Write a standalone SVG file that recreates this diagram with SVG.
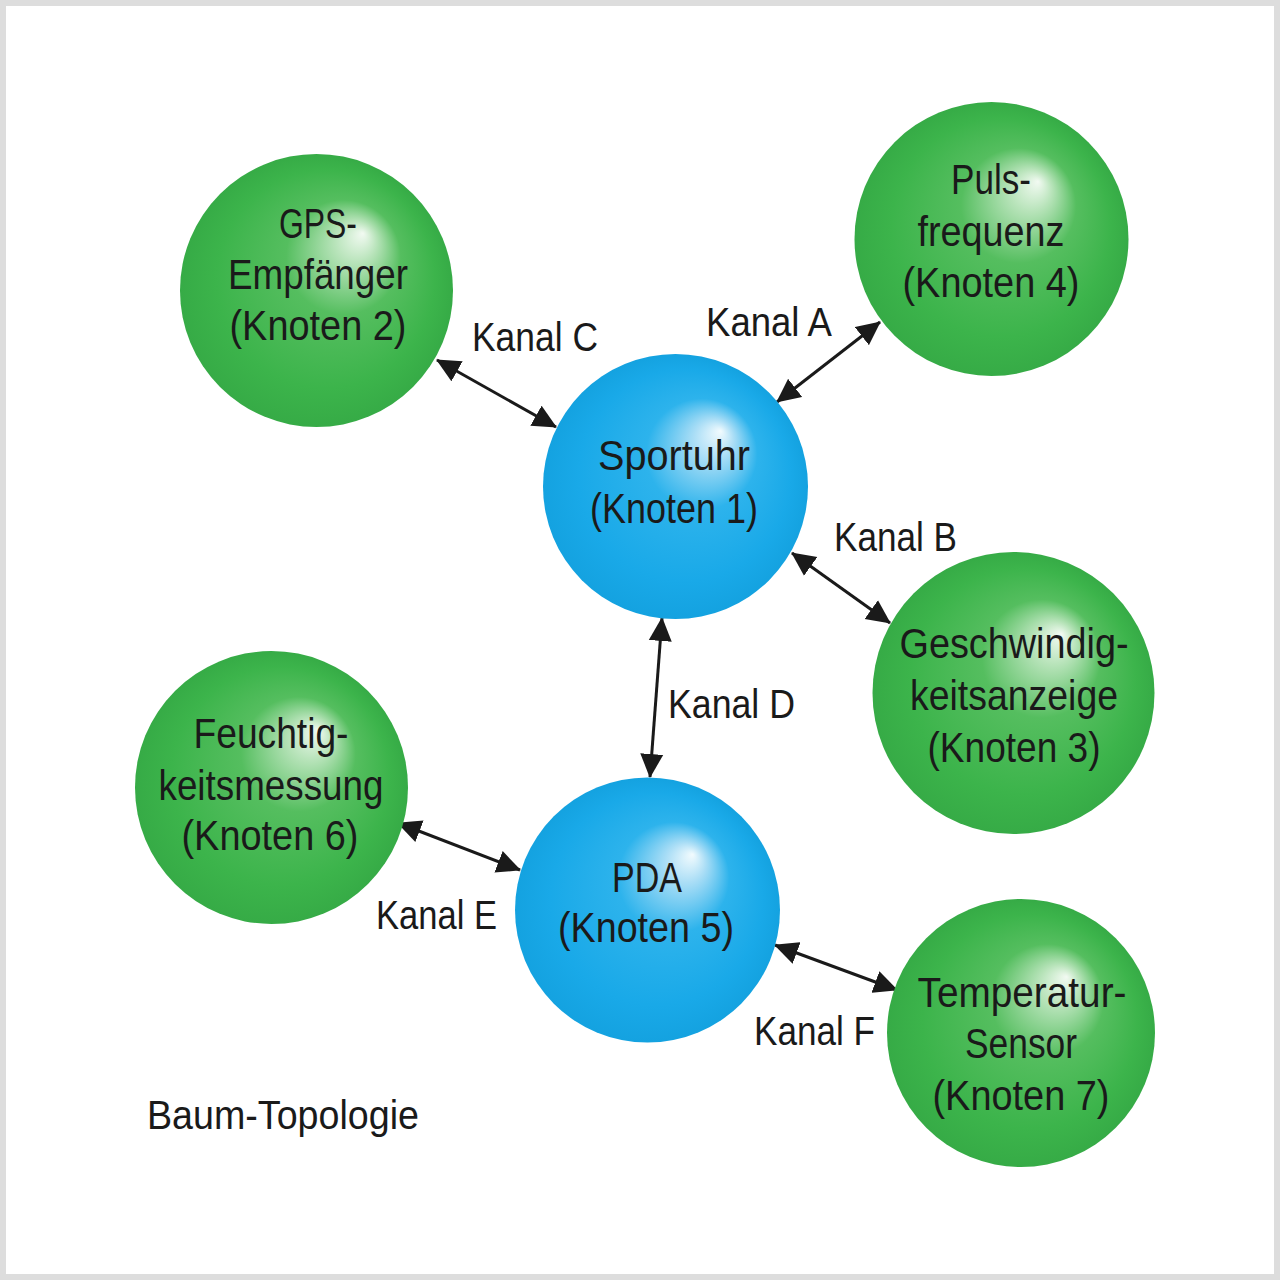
<svg xmlns="http://www.w3.org/2000/svg" width="1280" height="1280" viewBox="0 0 1280 1280">
<defs>
<radialGradient id="gGreen" cx="0.5" cy="0.5" r="0.5" fx="0.67" fy="0.29">
<stop offset="0" stop-color="#f2faf2"/>
<stop offset="0.15" stop-color="#b9e4bb"/>
<stop offset="0.42" stop-color="#55be5f"/>
<stop offset="0.8" stop-color="#3cb44b"/>
<stop offset="1" stop-color="#36ab46"/>
</radialGradient>
<radialGradient id="gBlue" cx="0.5" cy="0.5" r="0.5" fx="0.67" fy="0.29">
<stop offset="0" stop-color="#f2fbfe"/>
<stop offset="0.15" stop-color="#abdef6"/>
<stop offset="0.42" stop-color="#2db3ec"/>
<stop offset="0.8" stop-color="#19a9e8"/>
<stop offset="1" stop-color="#14a2e0"/>
</radialGradient>
<marker id="ah" viewBox="0 0 24 24" refX="23" refY="12" markerWidth="24" markerHeight="24" markerUnits="userSpaceOnUse" orient="auto-start-reverse">
<path d="M0,0.5 L24,12 L0,23.5 z" fill="#1a1a1a"/>
</marker>
</defs>
<style>
text{font-family:"Liberation Sans",Arial,sans-serif;fill:#1a1a1a;}
.n{font-size:42px;text-anchor:middle;}
.l{font-size:41px;}
.c{stroke:#1a1a1a;stroke-width:3;fill:none;marker-start:url(#ah);marker-end:url(#ah);}
</style>
<rect x="0" y="0" width="1280" height="1280" fill="#dddddd"/>
<rect x="6" y="6" width="1268" height="1268" fill="#ffffff"/>

<g id="connectors">
<line class="c" x1="437" y1="360" x2="556" y2="427"/>
<line class="c" x1="880" y1="322" x2="777" y2="402"/>
<line class="c" x1="792" y1="553" x2="890" y2="623"/>
<line class="c" x1="662" y1="618" x2="650" y2="777"/>
<line class="c" x1="398" y1="823" x2="520" y2="870"/>
<line class="c" x1="775" y1="945" x2="897" y2="990"/>
</g>

<g id="labels">
<text class="l" x="472" y="351" textLength="126" lengthAdjust="spacingAndGlyphs">Kanal C</text>
<text class="l" x="706" y="336" textLength="126" lengthAdjust="spacingAndGlyphs">Kanal A</text>
<text class="l" x="834" y="551" textLength="123" lengthAdjust="spacingAndGlyphs">Kanal B</text>
<text class="l" x="668" y="718" textLength="127" lengthAdjust="spacingAndGlyphs">Kanal D</text>
<text class="l" x="376" y="929" textLength="121" lengthAdjust="spacingAndGlyphs">Kanal E</text>
<text class="l" x="754" y="1045" textLength="121" lengthAdjust="spacingAndGlyphs">Kanal F</text>
<text class="l" x="147" y="1129" textLength="272" lengthAdjust="spacingAndGlyphs">Baum-Topologie</text>
</g>

<g id="node2">
<circle cx="316.5" cy="290.5" r="136.5" fill="url(#gGreen)"/>
<text class="n" x="318" y="238" textLength="78" lengthAdjust="spacingAndGlyphs">GPS-</text>
<text class="n" x="318" y="289" textLength="180" lengthAdjust="spacingAndGlyphs">Empfänger</text>
<text class="n" x="318" y="340" textLength="177" lengthAdjust="spacingAndGlyphs">(Knoten 2)</text>
</g>

<g id="node4">
<circle cx="991.5" cy="239" r="137" fill="url(#gGreen)"/>
<text class="n" x="991" y="194" textLength="80" lengthAdjust="spacingAndGlyphs">Puls-</text>
<text class="n" x="991" y="246" textLength="147" lengthAdjust="spacingAndGlyphs">frequenz</text>
<text class="n" x="991" y="297" textLength="177" lengthAdjust="spacingAndGlyphs">(Knoten 4)</text>
</g>

<g id="node1">
<circle cx="675.5" cy="486.5" r="132.5" fill="url(#gBlue)"/>
<text class="n" x="674" y="470" textLength="152" lengthAdjust="spacingAndGlyphs">Sportuhr</text>
<text class="n" x="674" y="523" textLength="168" lengthAdjust="spacingAndGlyphs">(Knoten 1)</text>
</g>

<g id="node3">
<circle cx="1013.5" cy="693" r="141" fill="url(#gGreen)"/>
<text class="n" x="1014" y="658" textLength="229" lengthAdjust="spacingAndGlyphs">Geschwindig-</text>
<text class="n" x="1014" y="710" textLength="208" lengthAdjust="spacingAndGlyphs">keitsanzeige</text>
<text class="n" x="1014" y="762" textLength="173" lengthAdjust="spacingAndGlyphs">(Knoten 3)</text>
</g>

<g id="node6">
<circle cx="271.5" cy="787.5" r="136.5" fill="url(#gGreen)"/>
<text class="n" x="271" y="748" textLength="155" lengthAdjust="spacingAndGlyphs">Feuchtig-</text>
<text class="n" x="271" y="800" textLength="225" lengthAdjust="spacingAndGlyphs">keitsmessung</text>
<text class="n" x="270" y="850" textLength="177" lengthAdjust="spacingAndGlyphs">(Knoten 6)</text>
</g>

<g id="node5">
<circle cx="647.5" cy="910" r="132.5" fill="url(#gBlue)"/>
<text class="n" x="647" y="892" textLength="70" lengthAdjust="spacingAndGlyphs">PDA</text>
<text class="n" x="646" y="942" textLength="176" lengthAdjust="spacingAndGlyphs">(Knoten 5)</text>
</g>

<g id="node7">
<circle cx="1021" cy="1033" r="134" fill="url(#gGreen)"/>
<text class="n" x="1022" y="1007" textLength="209" lengthAdjust="spacingAndGlyphs">Temperatur-</text>
<text class="n" x="1021" y="1058" textLength="112" lengthAdjust="spacingAndGlyphs">Sensor</text>
<text class="n" x="1021" y="1110" textLength="177" lengthAdjust="spacingAndGlyphs">(Knoten 7)</text>
</g>
</svg>
